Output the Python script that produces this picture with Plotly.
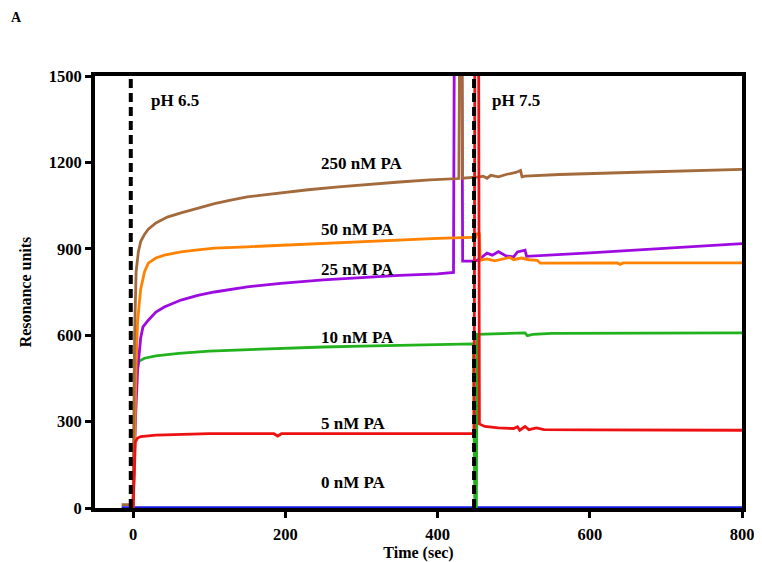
import plotly.graph_objects as go

# ---- data ----
t_250 = [-15, -1, 0, 2, 4, 7, 10, 15, 20, 30, 45, 63, 85, 107, 130, 150, 175, 194, 230, 270, 310, 350, 390, 420, 428, 429, 432, 433, 440, 447, 455, 460, 465, 470, 480, 490, 496, 503, 509, 511, 515, 560, 650, 720, 800]
ru_250 = [12, 12, 12, 600, 820, 890, 925, 950, 968, 990, 1010, 1025, 1042, 1057, 1070, 1080, 1088, 1094, 1105, 1115, 1124, 1132, 1139, 1143, 1144, 1600, 1600, 1145, 1146, 1148, 1150, 1152, 1145, 1155, 1150, 1158, 1162, 1165, 1172, 1150, 1152, 1158, 1165, 1170, 1176]

t_50 = [0, 2, 4, 6, 10, 15, 20, 30, 41, 63, 85, 107, 150, 194, 250, 300, 350, 400, 445, 450, 451, 455, 456, 465, 475, 485, 495, 500, 510, 520, 531, 535, 600, 636, 640, 644, 700, 800]
ru_50 = [5, 200, 500, 650, 760, 820, 850, 868, 878, 889, 896, 902, 907, 912, 920, 926, 932, 936, 940, 940, 952, 952, 860, 865, 858, 863, 870, 862, 868, 862, 860, 850, 851, 851, 846, 851, 851, 851]

t_25 = [0, 3, 6, 10, 13, 20, 30, 41, 63, 85, 107, 150, 194, 250, 300, 350, 400, 415, 421, 422, 432, 433, 447, 452, 458, 465, 472, 480, 490, 500, 505, 515, 517, 600, 700, 800]
ru_25 = [5, 300, 480, 590, 629, 652, 680, 698, 722, 738, 750, 768, 780, 792, 800, 808, 813, 815, 818, 1600, 1600, 857, 857, 860, 870, 885, 878, 890, 875, 872, 889, 895, 874, 886, 902, 918]

t_10 = [0, 2, 4, 8, 15, 30, 60, 100, 150, 200, 250, 300, 350, 400, 447, 449, 451, 452, 480, 515, 518, 525, 550, 600, 700, 800]
ru_10 = [0, 300, 470, 510, 520, 528, 537, 545, 550, 555, 559, 562, 565, 567, 570, 0, 0, 603, 605, 608, 598, 603, 606, 606, 607, 608]

t_5 = [0, 1, 3, 6, 10, 30, 60, 100, 185, 190, 195, 300, 400, 440, 448, 449, 454, 455, 462, 480, 500, 505, 508, 515, 520, 530, 540, 600, 700, 800]
ru_5 = [0, 100, 230, 243, 248, 253, 256, 258, 258, 250, 258, 259, 259, 258, 258, 1600, 1600, 292, 283, 278, 276, 282, 270, 283, 272, 278, 272, 271, 270, 270]

t_0 = [-15, 800]
ru_0 = [0, 0]

series_names = ["250 nM PA", "50 nM PA", "25 nM PA", "10 nM PA", "5 nM PA", "0 nM PA"]
label_x = [244, 244, 244, 244, 244, 244]
label_y = [1195, 968, 829, 593, 295, 90]

x_ticks = [0, 200, 400, 600, 800]
y_ticks = [0, 300, 600, 900, 1200, 1500]
injections = [-3, 448]
ph_labels = ["pH 6.5", "pH 7.5"]
ph_x = [21, 469]
ph_y = 1416

colors = ["#A36B3C", "#FF8200", "#9D0BE0", "#22B21E", "#EE1111", "#1A1AE6"]
series_t = [t_250, t_50, t_25, t_10, t_5, t_0]
series_ru = [ru_250, ru_50, ru_25, ru_10, ru_5, ru_0]

# ---- figure geometry (page has an 8px body margin; overflow beyond the window is not shown) ----
W, H = 762, 562
L, R, T, B = 87, 28, 68, 62
serif = "Liberation Serif, Times New Roman, serif"

fig = go.Figure()
order = [5, 3, 2, 1, 0, 4]
for i in order:
    fig.add_trace(go.Scatter(x=series_t[i], y=series_ru[i], mode="lines",
                             line=dict(color=colors[i], width=3.5 if i == 5 else 2.8),
                             name=series_names[i], showlegend=False))

for xi in injections:
    fig.add_shape(type="line", x0=xi, x1=xi, y0=0, y1=1500, xref="x", yref="y",
                  line=dict(color="black", width=4, dash="9px,5px"), layer="above")

for name, lx, ly in zip(series_names, label_x, label_y):
    fig.add_annotation(x=lx, y=ly, text="<b>" + name + "</b>", showarrow=False,
                       xanchor="left", yanchor="middle",
                       font=dict(family=serif, size=17, color="black"))

for txt, px in zip(ph_labels, ph_x):
    fig.add_annotation(x=px, y=ph_y, text="<b>" + txt + "</b>", showarrow=False,
                       xanchor="left", yanchor="middle",
                       font=dict(family=serif, size=17, color="black"))

# panel letter, placed at the top-left corner of the figure
fig.add_annotation(x=(1 - L) / (W - L - R), y=(H - B - 0) / (H - T - B),
                   xref="paper", yref="paper", xanchor="left", yanchor="top",
                   text="<b>A</b>", showarrow=False,
                   font=dict(family=serif, size=14, color="black"))

fig.update_layout(
    width=W, height=H,
    margin=dict(l=L, r=R, t=T, b=B, autoexpand=False),
    plot_bgcolor="white", paper_bgcolor="white",
    font=dict(family=serif, color="black"),
)

fig.update_xaxes(range=[-50, 800], tickvals=x_ticks, ticktext=["<b>%d</b>" % v for v in x_ticks],
                 showline=True, linewidth=4, linecolor="black", mirror=True,
                 ticks="outside", ticklen=6, tickwidth=3, tickcolor="black",
                 ticklabelstandoff=2, automargin=False, ticklabeloverflow="allow",
                 showgrid=False, zeroline=False,
                 tickfont=dict(family=serif, size=16.5, color="black"),
                 title=dict(text="<b>Time (sec)</b>", font=dict(family=serif, size=16), standoff=1))
fig.update_yaxes(range=[0, 1500], tickvals=y_ticks, ticktext=["<b>%d</b>" % v for v in y_ticks],
                 showline=True, linewidth=4, linecolor="black", mirror=True,
                 ticks="outside", ticklen=6, tickwidth=3, tickcolor="black",
                 automargin=False,
                 showgrid=False, zeroline=False,
                 tickfont=dict(family=serif, size=16.5, color="black"),
                 title=dict(text="<b>Resonance units</b>", font=dict(family=serif, size=16), standoff=14))

fig.write_html("out.html")
